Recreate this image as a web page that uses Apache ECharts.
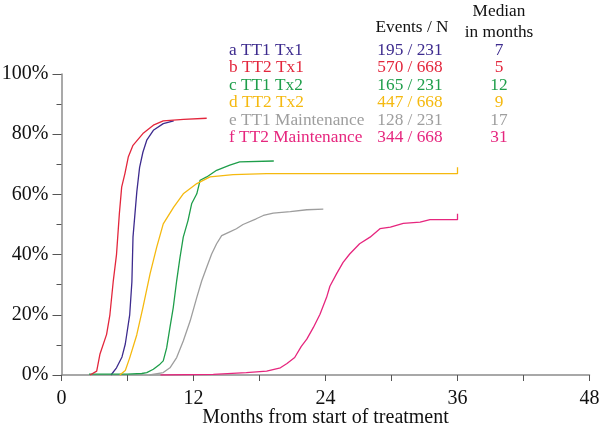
<!DOCTYPE html>
<html><head><meta charset="utf-8">
<script src="https://cdn.jsdelivr.net/npm/echarts@6/dist/echarts.min.js"></script>
<style>html,body{margin:0;padding:0;background:#fff}#c{width:600px;height:428px}</style>
</head><body><div id="c"></div>
<script>
const labels = ['a TT1 Tx1','b TT2 Tx1','c TT1 Tx2','d TT2 Tx2','e TT1 Maintenance','f TT2 Maintenance'];
const events = ['195 / 231','570 / 668','165 / 231','447 / 668','128 / 231','344 / 668'];
const medians = ['7','5','12','9','17','31'];
const colors = ['#3d2b8e','#e3263c','#1e9e4a','#f5b90f','#9e9e9e','#e6267e'];
const xTitle = 'Months from start of treatment';
const xTicks = [0,12,24,36,48];

const sA = [[4.5,0],[5.0,2.4],[5.5,6],[5.8,10.3],[6.2,20],[6.4,31],[6.5,45.8],[6.85,61],[7.1,69],[7.4,74],[7.75,78],[8.35,81.3],[9.25,83.5],[10.2,84.4]];
const sB = [[2.6,0],[3.2,1.3],[3.5,7],[4.1,13.5],[4.4,20],[4.7,31],[5.0,40],[5.26,53.6],[5.47,62.4],[5.77,67],[6.07,72.4],[6.5,76.3],[7.4,80.2],[8.35,83],[9.25,84.4],[11.1,84.9],[13.2,85.3]];
const sC = [[2.5,0.3],[6,0.3],[7.3,0.5],[7.75,0.8],[8.35,1.9],[8.95,3.6],[9.25,4.7],[9.56,9],[9.86,15.8],[10.16,22.4],[10.47,31.3],[10.77,39],[11.07,45.8],[11.5,51.3],[11.84,57],[12.3,60.2],[12.6,64.7],[13.2,65.8],[14.1,68],[15.3,69.7],[16.2,70.8],[19.3,71.1]];
const sD = [[5.3,0],[5.8,1.5],[6.2,5.7],[6.84,13.3],[7.4,22.4],[8.05,33.6],[8.65,42.4],[9.25,50.2],[10.2,55.8],[11.07,60.2],[12.3,63.6],[13.5,65.8],[15.6,66.6],[18.65,66.9],[36,66.9],[36,69]];
const sE = [[8.0,0],[9.25,0.8],[9.86,2.4],[10.47,5.8],[11.07,11.3],[11.7,18],[12.3,25.8],[12.75,31.3],[13.2,35.8],[13.65,40.2],[14.1,43.6],[14.56,46.3],[15.2,47.4],[15.9,48.6],[16.5,50],[17.7,51.9],[18.35,53],[19.25,53.8],[20.8,54.3],[22.3,54.9],[23.8,55.1]];
const sF = [[9,0],[13.8,0.2],[16.8,0.8],[18.65,1.3],[19.9,2.4],[20.5,3.8],[21.2,5.8],[21.8,9.5],[22.3,11.9],[22.9,15.8],[23.5,20.2],[24.1,25.8],[24.4,29.5],[25.0,33.6],[25.6,37.4],[26.2,40.2],[27.1,43.6],[28.05,45.8],[28.95,48.6],[29.9,49.1],[31.07,50.4],[32.6,50.8],[33.5,51.6],[36,51.6],[36,53.6]];
const seriesData = [sA,sB,sC,sD,sE,sF];

const FONT = '"Liberation Serif", "Times New Roman", serif';
const LF = '17.3px ' + FONT;
const chart = echarts.init(document.getElementById('c'), null, {renderer:'canvas'});

chart.setOption({
  animation:false,
  backgroundColor:'#fff',
  grid:{left:61.5, right:10.5, top:74, bottom:53, containLabel:false, outerBoundsMode:'none'},
  xAxis:{type:'value', min:0, max:48, interval:6,
    axisLine:{show:true, lineStyle:{color:'#8c8c8c', width:1.5}},
    axisTick:{show:true, length:6, lineStyle:{color:'#555'}},
    axisLabel:{show:false},
    splitLine:{show:false}},
  yAxis:{type:'value', min:0, max:100, interval:20,
    axisLine:{show:true, lineStyle:{color:'#8c8c8c', width:1.5}},
    axisTick:{show:true, length:9, lineStyle:{color:'#555'}},
    minorTick:{show:true, splitNumber:2, length:5, lineStyle:{color:'#555'}},
    axisLabel:{fontFamily:FONT, fontSize:20, color:'#111', margin:13, formatter:'{value}%'},
    splitLine:{show:false}, minorSplitLine:{show:false}},
  series: seriesData.map((d,i)=>({
    type:'line', name:labels[i], data:d, showSymbol:false, symbol:'none',
    lineStyle:{color:colors[i], width:1.3}, itemStyle:{color:colors[i]},
    z: 3 + (i===1 ? 1 : 0)
  }))
});

const graphic = [];
const rowTop = 50.5, rowStep = 17.4;
labels.forEach((t,i)=>{
  const y = rowTop + i*rowStep;
  graphic.push({type:'text', x:229, y:y, style:{text:t, fill:colors[i], font:LF, align:'left', verticalAlign:'middle'}});
  graphic.push({type:'text', x:410, y:y, style:{text:events[i], fill:colors[i], font:LF, align:'center', verticalAlign:'middle'}});
  graphic.push({type:'text', x:499, y:y, style:{text:medians[i], fill:colors[i], font:LF, align:'center', verticalAlign:'middle'}});
});
graphic.push({type:'text', x:412, y:27, style:{text:'Events / N', fill:'#111', font:LF, align:'center', verticalAlign:'middle'}});
graphic.push({type:'text', x:499, y:11, style:{text:'Median', fill:'#111', font:LF, align:'center', verticalAlign:'middle'}});
graphic.push({type:'text', x:499, y:32, style:{text:'in months', fill:'#111', font:LF, align:'center', verticalAlign:'middle'}});

const axisY = chart.convertToPixel({yAxisIndex:0}, 0);
const x0 = chart.convertToPixel({xAxisIndex:0}, 0);
const x1 = chart.convertToPixel({xAxisIndex:0}, 48);
xTicks.forEach(v=>{
  const px = chart.convertToPixel({xAxisIndex:0}, v);
  graphic.push({type:'text', x:px, y:axisY+24, z:10, style:{text:String(v), fill:'#111', font:'20px '+FONT, lineHeight:14, align:'center', verticalAlign:'middle'}});
});
graphic.push({type:'text', x:(x0+x1)/2, y:axisY+43, z:9, style:{text:xTitle, fill:'#111', font:'20px '+FONT, lineHeight:14, align:'center', verticalAlign:'middle'}});

chart.setOption({graphic: graphic});
</script></body></html>
